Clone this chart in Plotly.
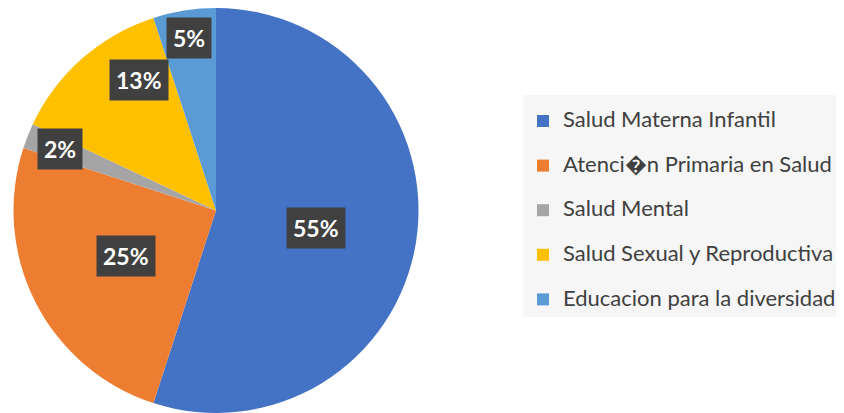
import math
import plotly.graph_objects as go

categories = ["Salud Materna Infantil", "Atenci\ufffdn Primaria en Salud", "Salud Mental",
              "Salud Sexual y Reproductiva", "Educacion para la diversidad"]
values = [55, 25, 2, 13, 5]
colors = ["#4472C4", "#ED7D31", "#A5A5A5", "#FFC000", "#5B9BD5"]

# label placement (fraction of radius, angular nudge in degrees)
label_r = [0.50, 0.50, 0.83, 0.75, 0.86]
label_dtheta = [1, 0, 0, 11, 0]

# the page body adds an 8px margin, so the figure is drawn 8px smaller
W, H = 836, 405
M = dict(l=0, r=0, t=0, b=0)
dom_x = [0, 416 / W]

plot_w = W - M["l"] - M["r"]
plot_h = H - M["t"] - M["b"]
cx = M["l"] + plot_w * (dom_x[0] + dom_x[1]) / 2
cy = M["t"] + plot_h / 2
R = min(plot_w * (dom_x[1] - dom_x[0]), plot_h) / 2

legend_labels = []
for i, c in enumerate(categories):
    lab = f"<span style='font-size:22px'>{c}</span>"
    if i < len(categories) - 1:
        lab += "<br>\u00a0"
    legend_labels.append(lab)

fig = go.Figure(go.Pie(
    labels=legend_labels,
    values=values,
    sort=False,
    direction="clockwise",
    rotation=0,
    marker=dict(colors=colors, line=dict(width=0)),
    textinfo="none",
    hoverinfo="label+percent",
    domain=dict(x=dom_x, y=[0, 1]),
))

total = sum(values)
cum = 0
annotations = []
for v, rf, dt in zip(values, label_r, label_dtheta):
    mid = (cum + v / 2) / total * 360 + dt
    cum += v
    a = math.radians(mid)
    px = cx + rf * R * math.sin(a)
    py = cy - rf * R * math.cos(a)
    annotations.append(dict(
        x=(px - M["l"]) / plot_w, y=(H - M["b"] - py) / plot_h,
        xref="paper", yref="paper", showarrow=False,
        text=f"<b>{round(v / total * 100)}%</b>",
        font=dict(family="Lato", size=23, color="white"),
        bgcolor="#404040", borderpad=6,
        xanchor="center", yanchor="middle",
    ))

fig.update_layout(
    width=W, height=H, margin=M,
    paper_bgcolor="white", plot_bgcolor="white",
    showlegend=True,
    legend=dict(
        x=515 / plot_w, y=(H - M["b"] - 87) / plot_h, xanchor="left", yanchor="top",
        bgcolor="#f6f6f6", borderwidth=0,
        font=dict(family="Lato", size=16, color="#404040"),
        valign="top",
        title=dict(text="\u00a0", font=dict(size=7)),
    ),
    annotations=annotations,
)

fig.write_html("out.html")
